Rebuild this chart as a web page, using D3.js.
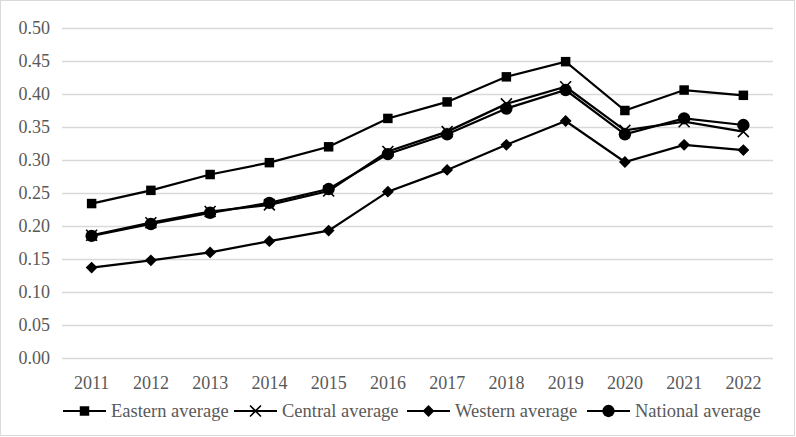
<!DOCTYPE html>
<html>
<head>
<meta charset="utf-8">
<script src="https://cdn.jsdelivr.net/npm/d3@7"></script>
<style>
  html, body { margin: 0; padding: 0; background: #fff; }
  svg { display: block; }
  text { font-family: "Liberation Serif", "Times New Roman", serif; fill: #595959; }
</style>
</head>
<body>
<script>
// values
const years = ['2011', '2012', '2013', '2014', '2015', '2016', '2017', '2018', '2019', '2020', '2021', '2022'];
const eastern = [0.234, 0.254, 0.278, 0.296, 0.320, 0.363, 0.388, 0.426, 0.449, 0.375, 0.406, 0.398];
const central = [0.186, 0.205, 0.222, 0.232, 0.253, 0.313, 0.343, 0.385, 0.411, 0.345, 0.358, 0.343];
const western = [0.137, 0.148, 0.160, 0.177, 0.193, 0.252, 0.285, 0.323, 0.359, 0.297, 0.323, 0.315];
const national = [0.185, 0.203, 0.220, 0.235, 0.256, 0.309, 0.339, 0.378, 0.406, 0.339, 0.363, 0.353];
const yTicks = [0, 0.05, 0.1, 0.15, 0.2, 0.25, 0.3, 0.35, 0.4, 0.45, 0.5];

const series = [
  { name: 'Eastern average', values: eastern, symbol: d3.symbolSquare, size: 90 },
  { name: 'Central average', values: central, symbol: d3.symbolX, size: 80 },
  { name: 'Western average', values: western, symbol: d3.symbolDiamond2, size: 90 },
  { name: 'National average', values: national, symbol: d3.symbolCircle, size: 120 },
];

const W = 796, H = 437;
const svg = d3.select('body').append('svg')
  .attr('width', W)
  .attr('height', H);

svg.append('rect')
  .attr('x', 0.5).attr('y', 0.5)
  .attr('width', W - 2).attr('height', H - 2)
  .attr('fill', '#fff')
  .attr('stroke', '#d9d9d9');

const x = d3.scaleBand()
  .domain(years)
  .range([62, 773]);

const y = d3.scaleLinear()
  .domain([0, 0.5])
  .range([358, 28]);

const cx = d => x(d) + x.bandwidth() / 2;

// gridlines
svg.append('g')
  .selectAll('line')
  .data(yTicks)
  .enter()
    .append('line')
    .attr('x1', 62)
    .attr('x2', 773)
    .attr('y1', d => Math.round(y(d)) + 0.5)
    .attr('y2', d => Math.round(y(d)) + 0.5)
    .attr('stroke', '#d9d9d9')
    .attr('stroke-width', 1.3);

// y labels
svg.append('g')
  .selectAll('text')
  .data(yTicks)
  .enter()
    .append('text')
    .attr('x', 50)
    .attr('y', d => y(d) + 6)
    .attr('text-anchor', 'end')
    .style('font-size', '18px')
    .text(d => d3.format('.2f')(d));

// x labels
svg.append('g')
  .selectAll('text')
  .data(years)
  .enter()
    .append('text')
    .attr('x', d => cx(d))
    .attr('y', 389)
    .attr('text-anchor', 'middle')
    .style('font-size', '18px')
    .text(d => d);

const line = d3.line()
  .x((d, i) => cx(years[i]))
  .y(d => y(d));

series.forEach(s => {
  const g = svg.append('g');
  g.append('path')
    .attr('d', line(s.values))
    .attr('fill', 'none')
    .attr('stroke', '#000')
    .attr('stroke-width', 2.2);

  const sym = d3.symbol().type(s.symbol).size(s.size);
  g.selectAll('path.pt')
    .data(s.values)
    .enter()
      .append('path')
      .attr('class', 'pt')
      .attr('d', sym)
      .attr('transform', (d, i) => `translate(${cx(years[i])} ${y(d)})`)
      .attr('fill', '#000')
      .attr('stroke', '#000')
      .attr('stroke-width', s.symbol === d3.symbolX ? 1.6 : 0);
});

// legend
const legendX = [63, 234, 407, 587];
series.forEach((s, i) => {
  const lg = svg.append('g')
    .attr('transform', `translate(${legendX[i]} 411)`);
  lg.append('line')
    .attr('x1', 0).attr('x2', 43)
    .attr('y1', 0).attr('y2', 0)
    .attr('stroke', '#000')
    .attr('stroke-width', 2.2);
  lg.append('path')
    .attr('d', d3.symbol().type(s.symbol).size(s.size)())
    .attr('transform', 'translate(21.5 0)')
    .attr('fill', '#000')
    .attr('stroke', '#000')
    .attr('stroke-width', s.symbol === d3.symbolX ? 1.6 : 0);
  lg.append('text')
    .attr('x', 48)
    .attr('y', 6)
    .style('font-size', '18.5px')
    .text(s.name);
});
</script>
</body>
</html>
